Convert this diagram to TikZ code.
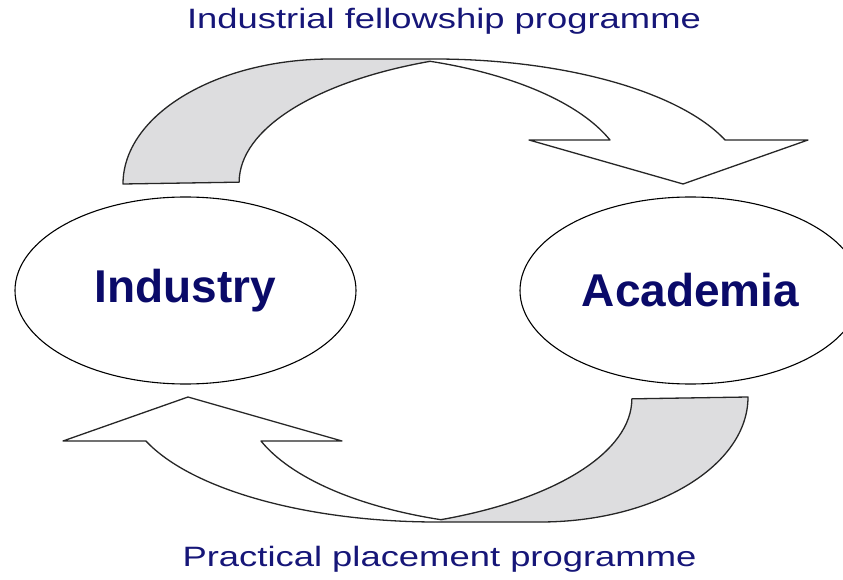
\documentclass[tikz,border=0pt]{standalone}
\usepackage{fontspec}
\setmainfont{Liberation Sans}
\usetikzlibrary{shapes.geometric}
\definecolor{navy}{RGB}{22,22,120}
\definecolor{deepnavy}{RGB}{10,10,105}
\definecolor{backgrey}{RGB}{221,221,223}
% outline of one curved band arrow and its shaded back
\newcommand{\bandoutline}{(123,395) arc[start angle=180,end angle=90,x radius=208,y radius=125]
  -- (434,520) arc[start angle=90,end angle=20.6,x radius=311,y radius=125]
  -- (808,439) -- (683,395) -- (529,439) -- (610,439)
  arc[start angle=19.5,end angle=70.3,x radius=297,y radius=129.5]
  arc[start angle=112.7,end angle=180,x radius=311,y radius=131] -- cycle}
\newcommand{\bandback}{(123,395) arc[start angle=180,end angle=90,x radius=208,y radius=125]
  -- (430,520) -- (430,517)
  arc[start angle=112.7,end angle=180,x radius=311,y radius=131] -- cycle}
\begin{document}
\begin{tikzpicture}[x=1pt,y=1pt,
  party/.style={ellipse,draw,line width=1.1pt,minimum width=341pt,minimum height=187pt,
    inner sep=0pt,text=deepnavy,font=\fontsize{46}{50}\selectfont\bfseries},
  scheme/.style={anchor=base,text=navy,xscale=1.3,font=\fontsize{28}{32}\selectfont},
  bandline/.style={draw=black!85,line width=1.3pt,line join=round},
  bandback/.style={fill=backgrey}]
\useasboundingbox (0,0) rectangle (843,579);
\clip (0,0) rectangle (843,579);
%
\fill[white] \bandoutline;
\fill[bandback] \bandback;
\draw[bandline] \bandoutline;
\begin{scope}[rotate around={180:(435.5,288.5)}]
  \fill[white] \bandoutline;
  \fill[bandback] \bandback;
  \draw[bandline] \bandoutline;
\end{scope}
%
\node[party] (industry) at (185.5,288.5) {Industry};
\node[party] (academia) at (690.5,288.5) {Academia};
\node[scheme] (fellowship) at (444,550) {Industrial fellowship programme};
\node[scheme] (placement) at (439.5,13) {Practical placement programme};
%
\end{tikzpicture}
\end{document}
